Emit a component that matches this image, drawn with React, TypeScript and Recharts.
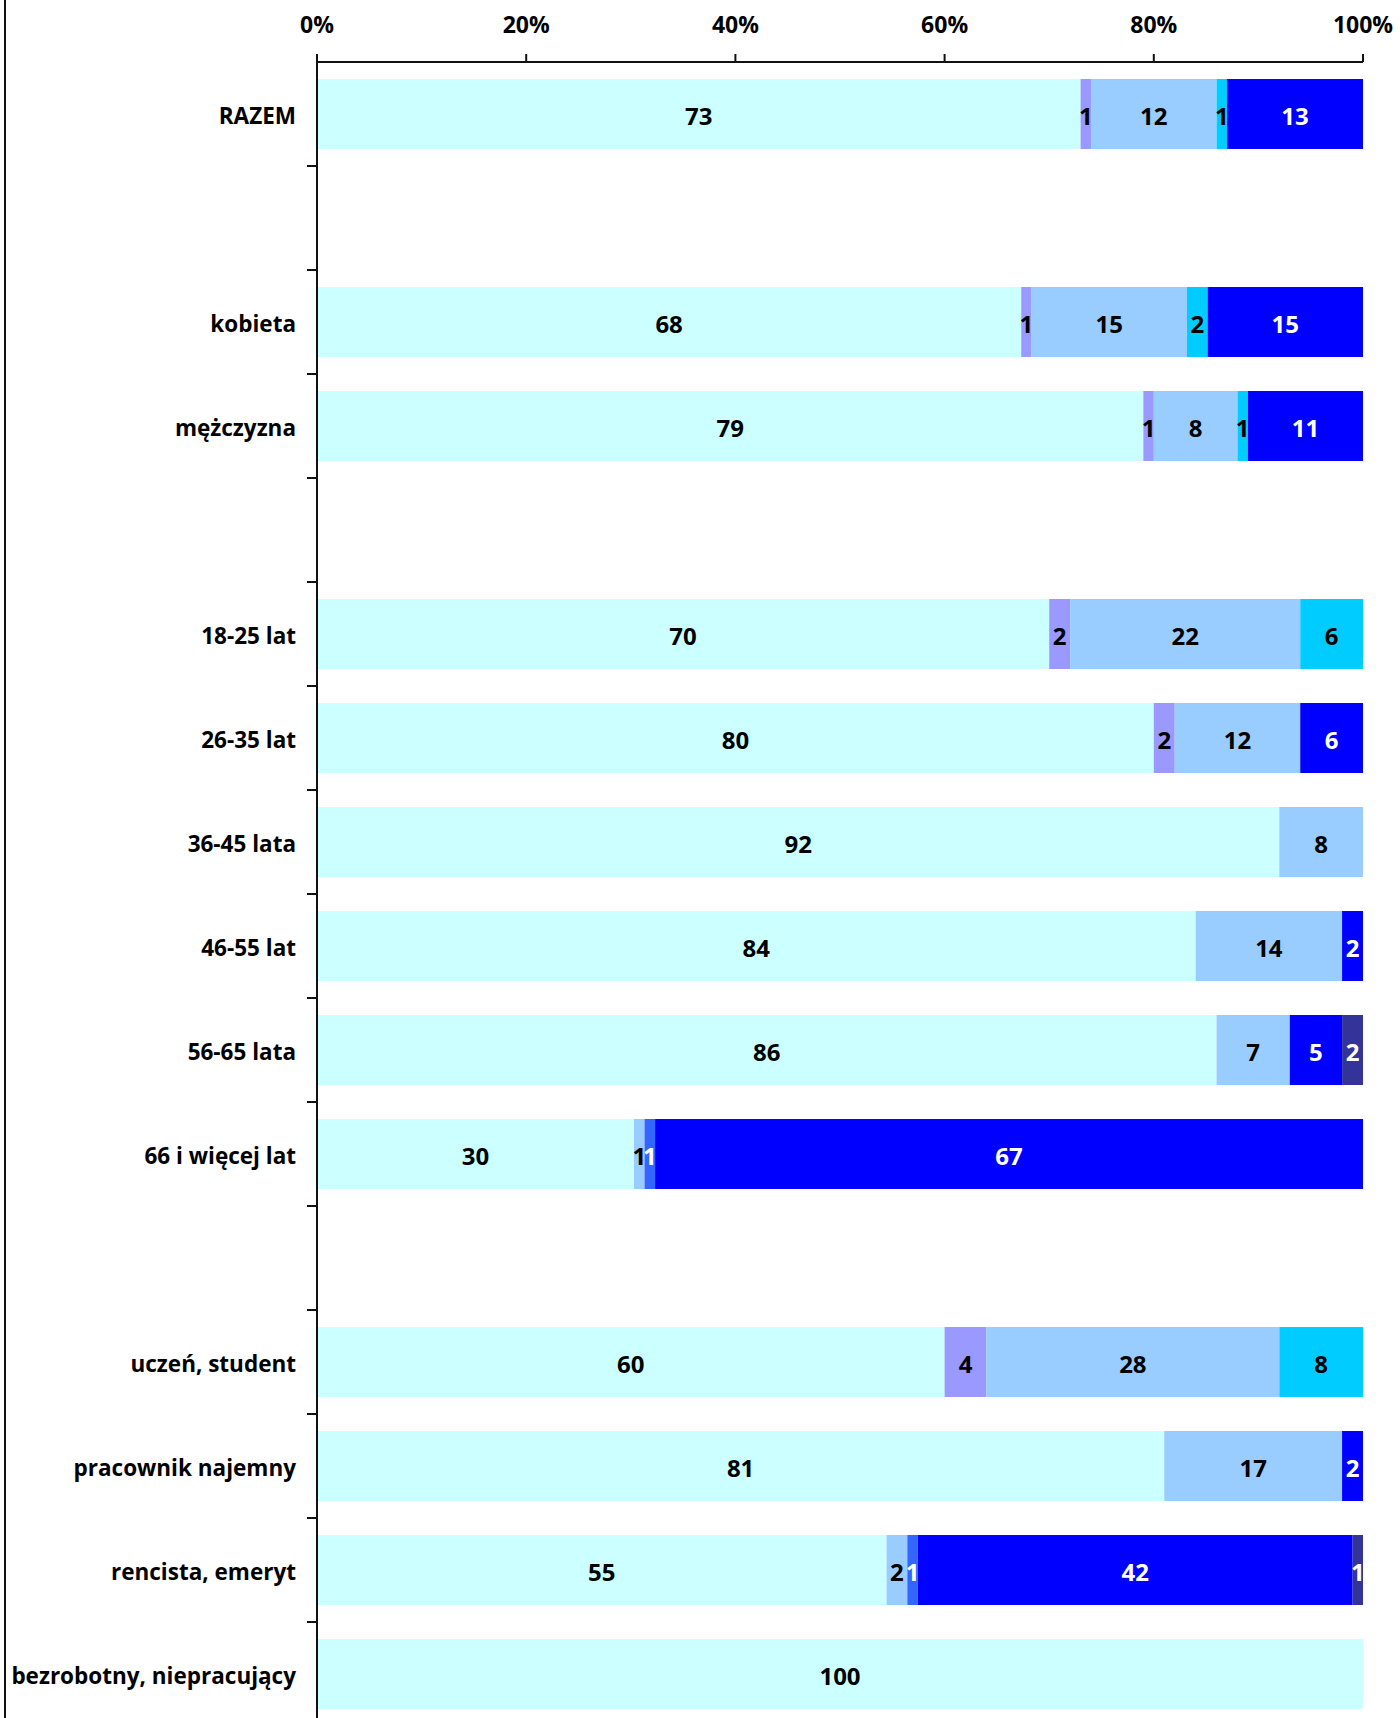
import React from 'react';
import { BarChart, Bar, XAxis, YAxis, LabelList } from 'recharts';

// categories, top to bottom (empty strings are the spacer rows)
const categories = [
  'RAZEM', '', 'kobieta', 'mężczyzna', '',
  '18-25 lat', '26-35 lat', '36-45 lata', '46-55 lat', '56-65 lata', '66 i więcej lat', '',
  'uczeń, student', 'pracownik najemny', 'rencista, emeryt', 'bezrobotny, niepracujący',
];

const seriesA = [73, 0, 68, 79, 0, 70, 80, 92, 84, 86, 30, 0, 60, 81, 55, 100];
const seriesB = [1, 0, 1, 1, 0, 2, 2, 0, 0, 0, 0, 0, 4, 0, 0, 0];
const seriesC = [12, 0, 15, 8, 0, 22, 12, 8, 14, 7, 1, 0, 28, 17, 2, 0];
const seriesD = [1, 0, 2, 1, 0, 6, 0, 0, 0, 0, 0, 0, 8, 0, 0, 0];
const seriesE = [0, 0, 0, 0, 0, 0, 0, 0, 0, 0, 1, 0, 0, 0, 1, 0];
const seriesF = [13, 0, 15, 11, 0, 0, 6, 0, 2, 5, 67, 0, 0, 2, 42, 0];
const seriesG = [0, 0, 0, 0, 0, 0, 0, 0, 0, 2, 0, 0, 0, 0, 1, 0];

const xTicks = [0, 0.2, 0.4, 0.6, 0.8, 1];

const data = categories.map((name, i) => ({
  name,
  a: seriesA[i],
  b: seriesB[i],
  c: seriesC[i],
  d: seriesD[i],
  e: seriesE[i],
  f: seriesF[i],
  g: seriesG[i],
}));

const series = [
  { key: 'a', color: '#CCFFFF', text: '#000' },
  { key: 'b', color: '#9999FF', text: '#000' },
  { key: 'c', color: '#99CCFF', text: '#000' },
  { key: 'd', color: '#00CCFF', text: '#000' },
  { key: 'e', color: '#3366FF', text: '#fff' },
  { key: 'f', color: '#0000FF', text: '#fff' },
  { key: 'g', color: '#333399', text: '#fff' },
];

const FONT = '"Open Sans", sans-serif';
const W = 1400;
const H = 1728;
const MARGIN = { top: 20, right: 37, bottom: 2, left: 0 };
const X_AXIS_H = 42;
const Y_AXIS_W = 317;
const BAND = (H - MARGIN.top - MARGIN.bottom - X_AXIS_H) / categories.length;

function CategoryTick(props: any) {
  const { x, y, payload } = props;
  return (
    <g>
      <text x={x} y={y} dy="0.45em" textAnchor="end" fontFamily={FONT} fontWeight={700} fontSize={22.5} fill="#000">
        {payload.value}
      </text>
      <line x1={Y_AXIS_W - 10} x2={Y_AXIS_W} y1={y + BAND / 2} y2={y + BAND / 2} stroke="#111" strokeWidth={2} />
    </g>
  );
}

function makeLabel(color: string) {
  return (props: any) => {
    const { x, y, width, height, value } = props;
    if (!value) return null;
    return (
      <text
        x={x + width / 2}
        y={y + height / 2}
        dy="0.45em"
        textAnchor="middle"
        fontFamily={FONT}
        fontWeight={700}
        fontSize={24}
        fill={color}
      >
        {value}
      </text>
    );
  };
}

export default function App() {
  return (
    <div style={{ position: 'relative', width: W, height: 1718, overflow: 'hidden', background: '#fff' }}>
      <style>{`body{margin:0}`}</style>
      <div style={{ position: 'absolute', left: 4, top: 0, width: 2, height: '100%', background: '#111' }} />
      <BarChart
        width={W}
        height={H}
        data={data}
        layout="vertical"
        stackOffset="expand"
        margin={MARGIN}
        barSize={70}
      >
        <XAxis
          type="number"
          orientation="top"
          domain={[0, 1]}
          ticks={xTicks}
          interval={0}
          height={X_AXIS_H}
          tickFormatter={(v: number) => `${Math.round(v * 100)}%`}
          tickSize={8}
          tickMargin={21}
          axisLine={{ stroke: '#111', strokeWidth: 2 }}
          tickLine={{ stroke: '#111', strokeWidth: 2 }}
          tick={{ fontFamily: FONT, fontWeight: 700, fontSize: 23, fill: '#000' }}
        />
        <YAxis
          type="category"
          dataKey="name"
          width={Y_AXIS_W}
          interval={0}
          tickLine={false}
          tickSize={10}
          tickMargin={11}
          axisLine={{ stroke: '#111', strokeWidth: 2 }}
          tick={<CategoryTick />}
        />
        {series.map((s) => (
          <Bar key={s.key} dataKey={s.key} stackId="all" fill={s.color} isAnimationActive={false}>
            <LabelList dataKey={s.key} content={makeLabel(s.text)} />
          </Bar>
        ))}
      </BarChart>
    </div>
  );
}
